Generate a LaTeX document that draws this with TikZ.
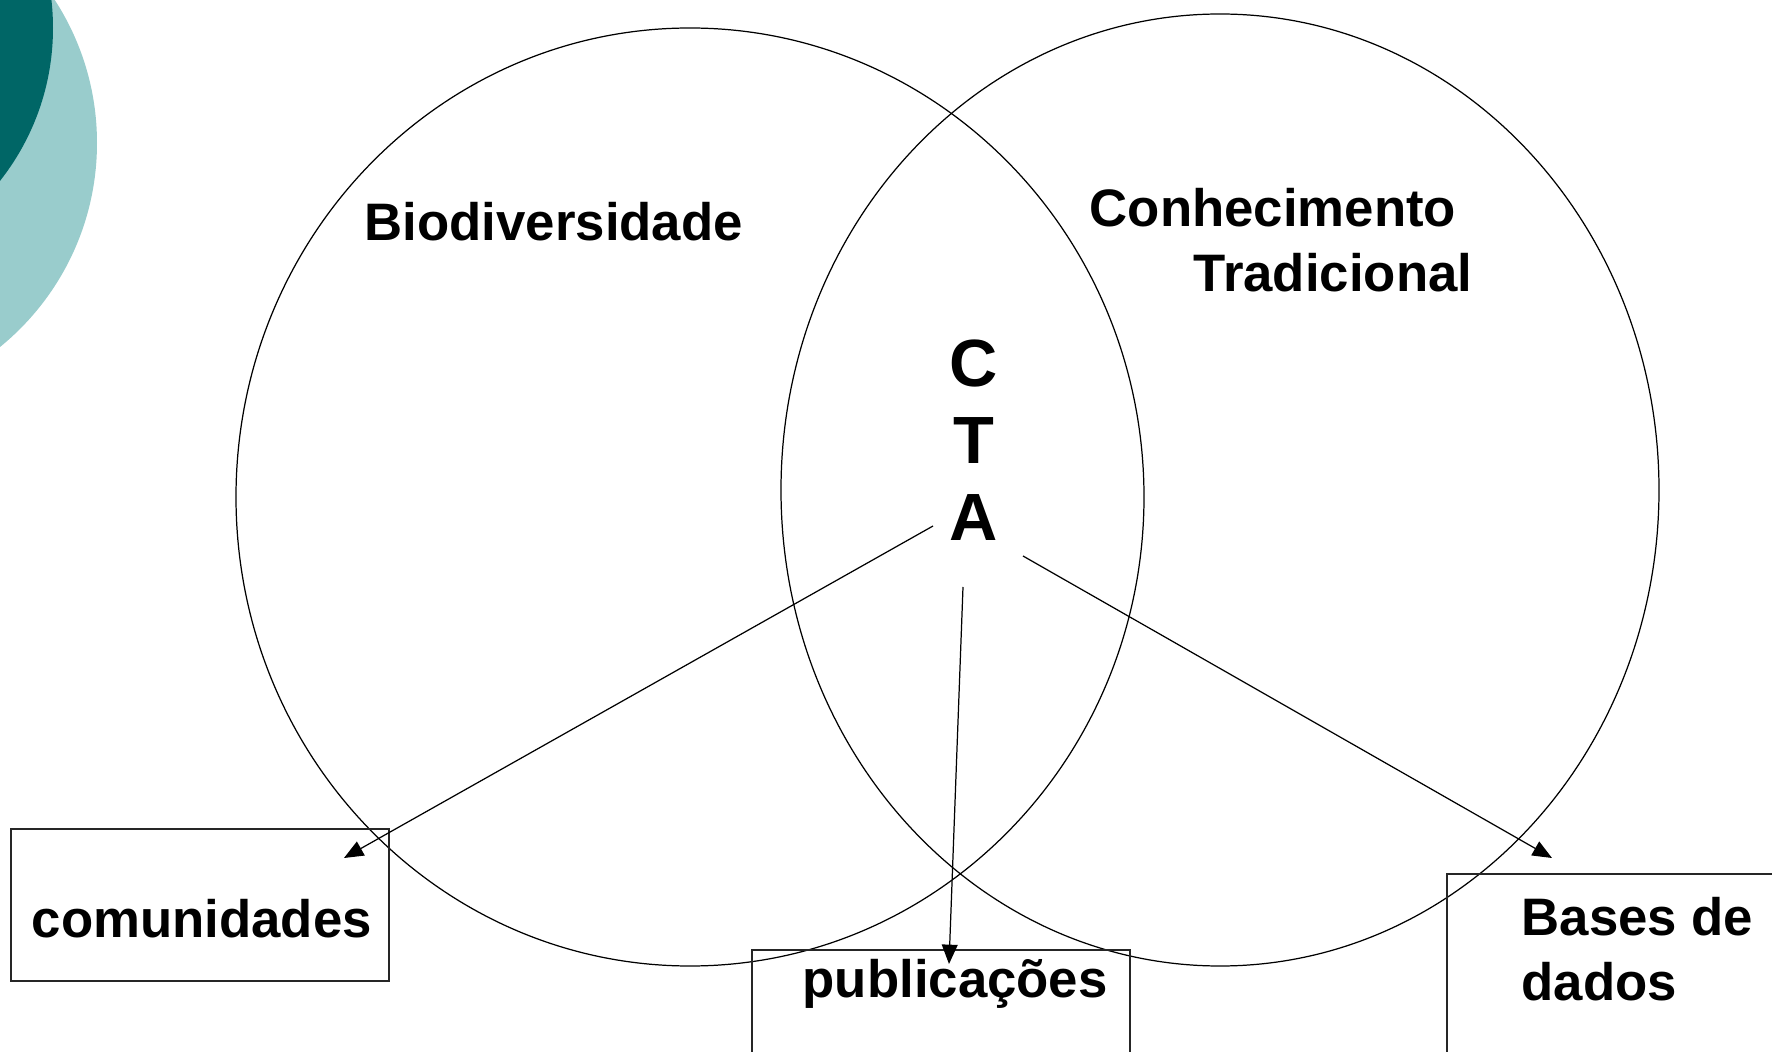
\documentclass[tikz,border=0pt]{standalone}
\usepackage{fontspec}
\setmainfont{Liberation Sans}
\usetikzlibrary{arrows.meta}
\definecolor{tealdark}{RGB}{0,102,102}
\definecolor{teallight}{RGB}{153,204,204}
\tikzset{
  lbl/.style={inner sep=0pt, anchor=base west, font=\fontsize{15}{18}\selectfont\bfseries},
  cta/.style={inner sep=0pt, anchor=base, font=\fontsize{19}{22}\selectfont\bfseries},
  arr/.style={-{Triangle[length=5.5pt,width=4.5pt]}, line width=0.35pt},
  box/.style={draw=black!85, line width=0.5pt}
}
\begin{document}
\begin{tikzpicture}[x=0.01cm, y=-0.01cm]
    \clip (0,0) rectangle (1772,1052);
    \fill[white] (0,0) rectangle (1772,1052);
    % Draw the decoration in the corner.
    \fill[teallight] (-166,143) circle (263);
    \fill[tealdark] (-194,28) circle (247);
    % Draw the two sets.
    \draw[line width=0.35pt] (690,497) ellipse (454 and 469);
    \draw[line width=0.35pt] (1220,490) ellipse (439 and 476);
    \node[lbl] (bio) at (364,241) {Biodiversidade};
    \node[lbl] (conh) at (1089,227) {Conhecimento};
    \node[lbl] (trad) at (1193,292) {Tradicional};
    % Draw the intersection label.
    \node[cta] (c) at (974,387) {C};
    \node[cta] (t) at (974,464) {T};
    \node[cta] (a) at (974,541) {A};
    % Draw the boxes with their texts.
    \draw[box] (11,829) rectangle (389,981);
    \draw[box] (752,950) rectangle (1130,1070);
    \draw[box] (1447,874) rectangle (1790,1070);
    \node[lbl] (com) at (31,937) {comunidades};
    \node[lbl] (pub) at (802,997) {publicações};
    \node[lbl] (bas1) at (1521,935) {Bases de};
    \node[lbl] (bas2) at (1521,1000) {dados};
    % Draw the arrows from the intersection to the boxes.
    \coordinate (ctaL) at (933,526);
    \coordinate (ctaM) at (963,587);
    \coordinate (ctaR) at (1023,556);
    \coordinate (comEnd) at (344,858);
    \coordinate (pubEnd) at (949,964);
    \coordinate (basEnd) at (1552,858);
    \draw[arr] (ctaL) -- (comEnd);
    \draw[arr] (ctaM) -- (pubEnd);
    \draw[arr] (ctaR) -- (basEnd);
\end{tikzpicture}
\end{document}
